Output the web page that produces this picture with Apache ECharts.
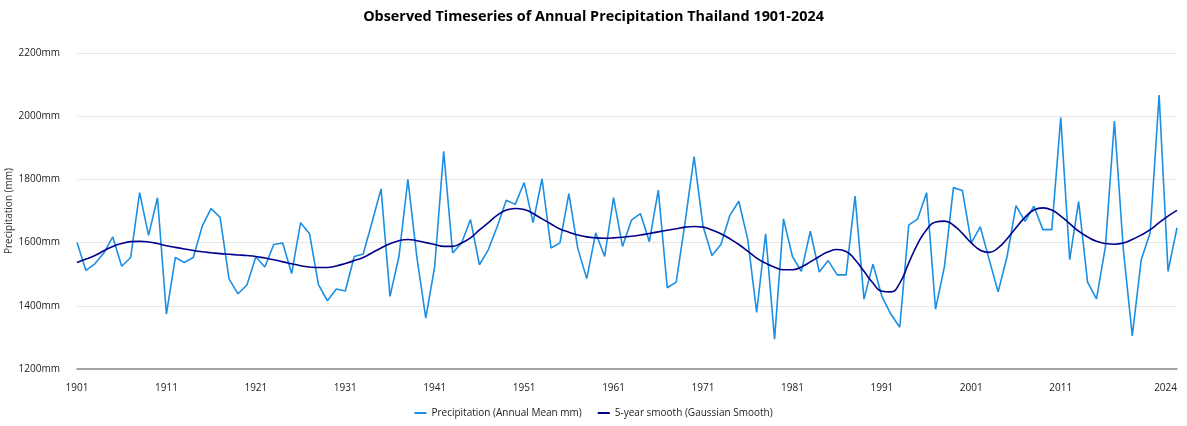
<!DOCTYPE html>
<html>
<head>
<meta charset="utf-8">
<script src="https://cdn.jsdelivr.net/npm/echarts@6/dist/echarts.min.js"></script>
<style>
  html, body { margin: 0; padding: 0; background: #fff; }
  #chart { width: 1187px; height: 426px; }
</style>
</head>
<body>
<div id="chart"></div>
<script>
// years 1901..2024
const years = [];
for (let y = 1901; y <= 2024; y++) years.push(String(y));

// annual mean precipitation (mm)
const precip = [
  1600, 1512, 1533, 1567, 1618, 1525, 1553, 1758, 1623, 1742,
  1374, 1553, 1537, 1553, 1652, 1708, 1680, 1485, 1438, 1466,
  1555, 1523, 1594, 1599, 1502, 1663, 1628, 1467, 1416, 1453,
  1447, 1556, 1564, 1665, 1770, 1430, 1556, 1800, 1555, 1361,
  1525, 1889, 1567, 1599, 1673, 1530, 1578, 1652, 1734, 1721,
  1790, 1663, 1802, 1583, 1599, 1755, 1581, 1486, 1631, 1556,
  1742, 1588, 1671, 1692, 1603, 1766, 1457, 1475, 1665, 1872,
  1652, 1559, 1594, 1686, 1731, 1610, 1379, 1628, 1294, 1675,
  1556, 1509, 1636, 1507, 1543, 1498, 1498, 1747, 1421, 1532,
  1430, 1374, 1332, 1655, 1675, 1758, 1389, 1525, 1774, 1765,
  1599, 1650, 1546, 1444, 1556, 1717, 1667, 1715, 1641, 1641,
  1996, 1546, 1730, 1475, 1422, 1588, 1985, 1578, 1305, 1546,
  1631, 2067, 1509, 1647
];

// 5-year gaussian smooth (mm)
const smooth = [
  1537, 1548, 1559, 1574, 1588, 1597, 1603, 1604, 1602, 1597,
  1590, 1585, 1580, 1575, 1571, 1568, 1565, 1563, 1561, 1559,
  1556, 1551, 1546, 1539, 1533, 1527, 1523, 1521, 1521, 1526,
  1534, 1543, 1553, 1568, 1583, 1596, 1606, 1610, 1606, 1600,
  1594, 1588, 1588, 1599, 1615, 1640, 1663, 1687, 1703, 1708,
  1705, 1692, 1675, 1659, 1643, 1633, 1624, 1618, 1615, 1614,
  1615, 1617, 1620, 1624, 1629, 1634, 1639, 1644, 1649, 1651,
  1649, 1640, 1628, 1612, 1594, 1573, 1551, 1535, 1522, 1514,
  1514, 1523, 1539, 1556, 1571, 1578, 1572, 1546, 1509, 1472,
  1446, 1444, 1472, 1535, 1596, 1641, 1665, 1668, 1655, 1629,
  1599, 1576, 1569, 1583, 1612, 1647, 1680, 1703, 1710, 1703,
  1684, 1660, 1636, 1618, 1604, 1597, 1595, 1599, 1610, 1624,
  1641, 1663, 1684, 1702
];

const tickYears = ["1901", "1911", "1921", "1931", "1941", "1951", "1961",
  "1971", "1981", "1991", "2001", "2011", "2024"];

const chart = echarts.init(document.getElementById("chart"));
const font = "'Open Sans', 'Noto Sans', sans-serif";

chart.setOption({
  animation: false,
  textStyle: { fontFamily: font },
  title: {
    text: "Observed Timeseries of Annual Precipitation Thailand 1901-2024",
    left: "center",
    top: 5,
    textStyle: { fontSize: 14.4, fontWeight: "bold", color: "#000", fontFamily: font }
  },
  grid: { left: 77, right: 10, top: 53, bottom: 57, outerBoundsMode: "none" },
  legend: {
    bottom: 3,
    left: "center",
    itemWidth: 12,
    itemHeight: 2,
    itemGap: 16,
    icon: "rect",
    textStyle: { fontSize: 10, color: "#222", fontFamily: font },
    data: ["Precipitation (Annual Mean mm)", "5-year smooth (Gaussian Smooth)"]
  },
  xAxis: {
    type: "category",
    data: years,
    boundaryGap: false,
    axisLine: { lineStyle: { color: "#888", width: 1.5 } },
    axisTick: { show: false },
    axisLabel: {
      interval: (idx, val) => tickYears.includes(val),
      alignMaxLabel: "right",
      fontSize: 10,
      color: "#222",
      margin: 14
    },
    splitLine: { show: false }
  },
  yAxis: {
    type: "value",
    min: 1200,
    max: 2200,
    interval: 200,
    name: "Precipitation (mm)",
    nameLocation: "middle",
    nameGap: 63,
    nameMoveOverlap: false,
    nameTextStyle: { fontSize: 10, color: "#333" },
    axisLine: { show: false },
    axisTick: { show: false },
    axisLabel: { formatter: (v) => v + "mm", fontSize: 10, color: "#222", margin: 17 },
    splitLine: { lineStyle: { color: "#e6e6e6", width: 1 } }
  },
  series: [
    {
      name: "Precipitation (Annual Mean mm)",
      type: "line",
      data: precip,
      showSymbol: false,
      symbol: "none",
      lineStyle: { color: "#1a8fe3", width: 1.6 },
      itemStyle: { color: "#1a8fe3" }
    },
    {
      name: "5-year smooth (Gaussian Smooth)",
      type: "line",
      data: smooth,
      smooth: true,
      showSymbol: false,
      symbol: "none",
      lineStyle: { color: "#00008b", width: 1.6 },
      itemStyle: { color: "#00008b" }
    }
  ]
});
</script>
</body>
</html>
